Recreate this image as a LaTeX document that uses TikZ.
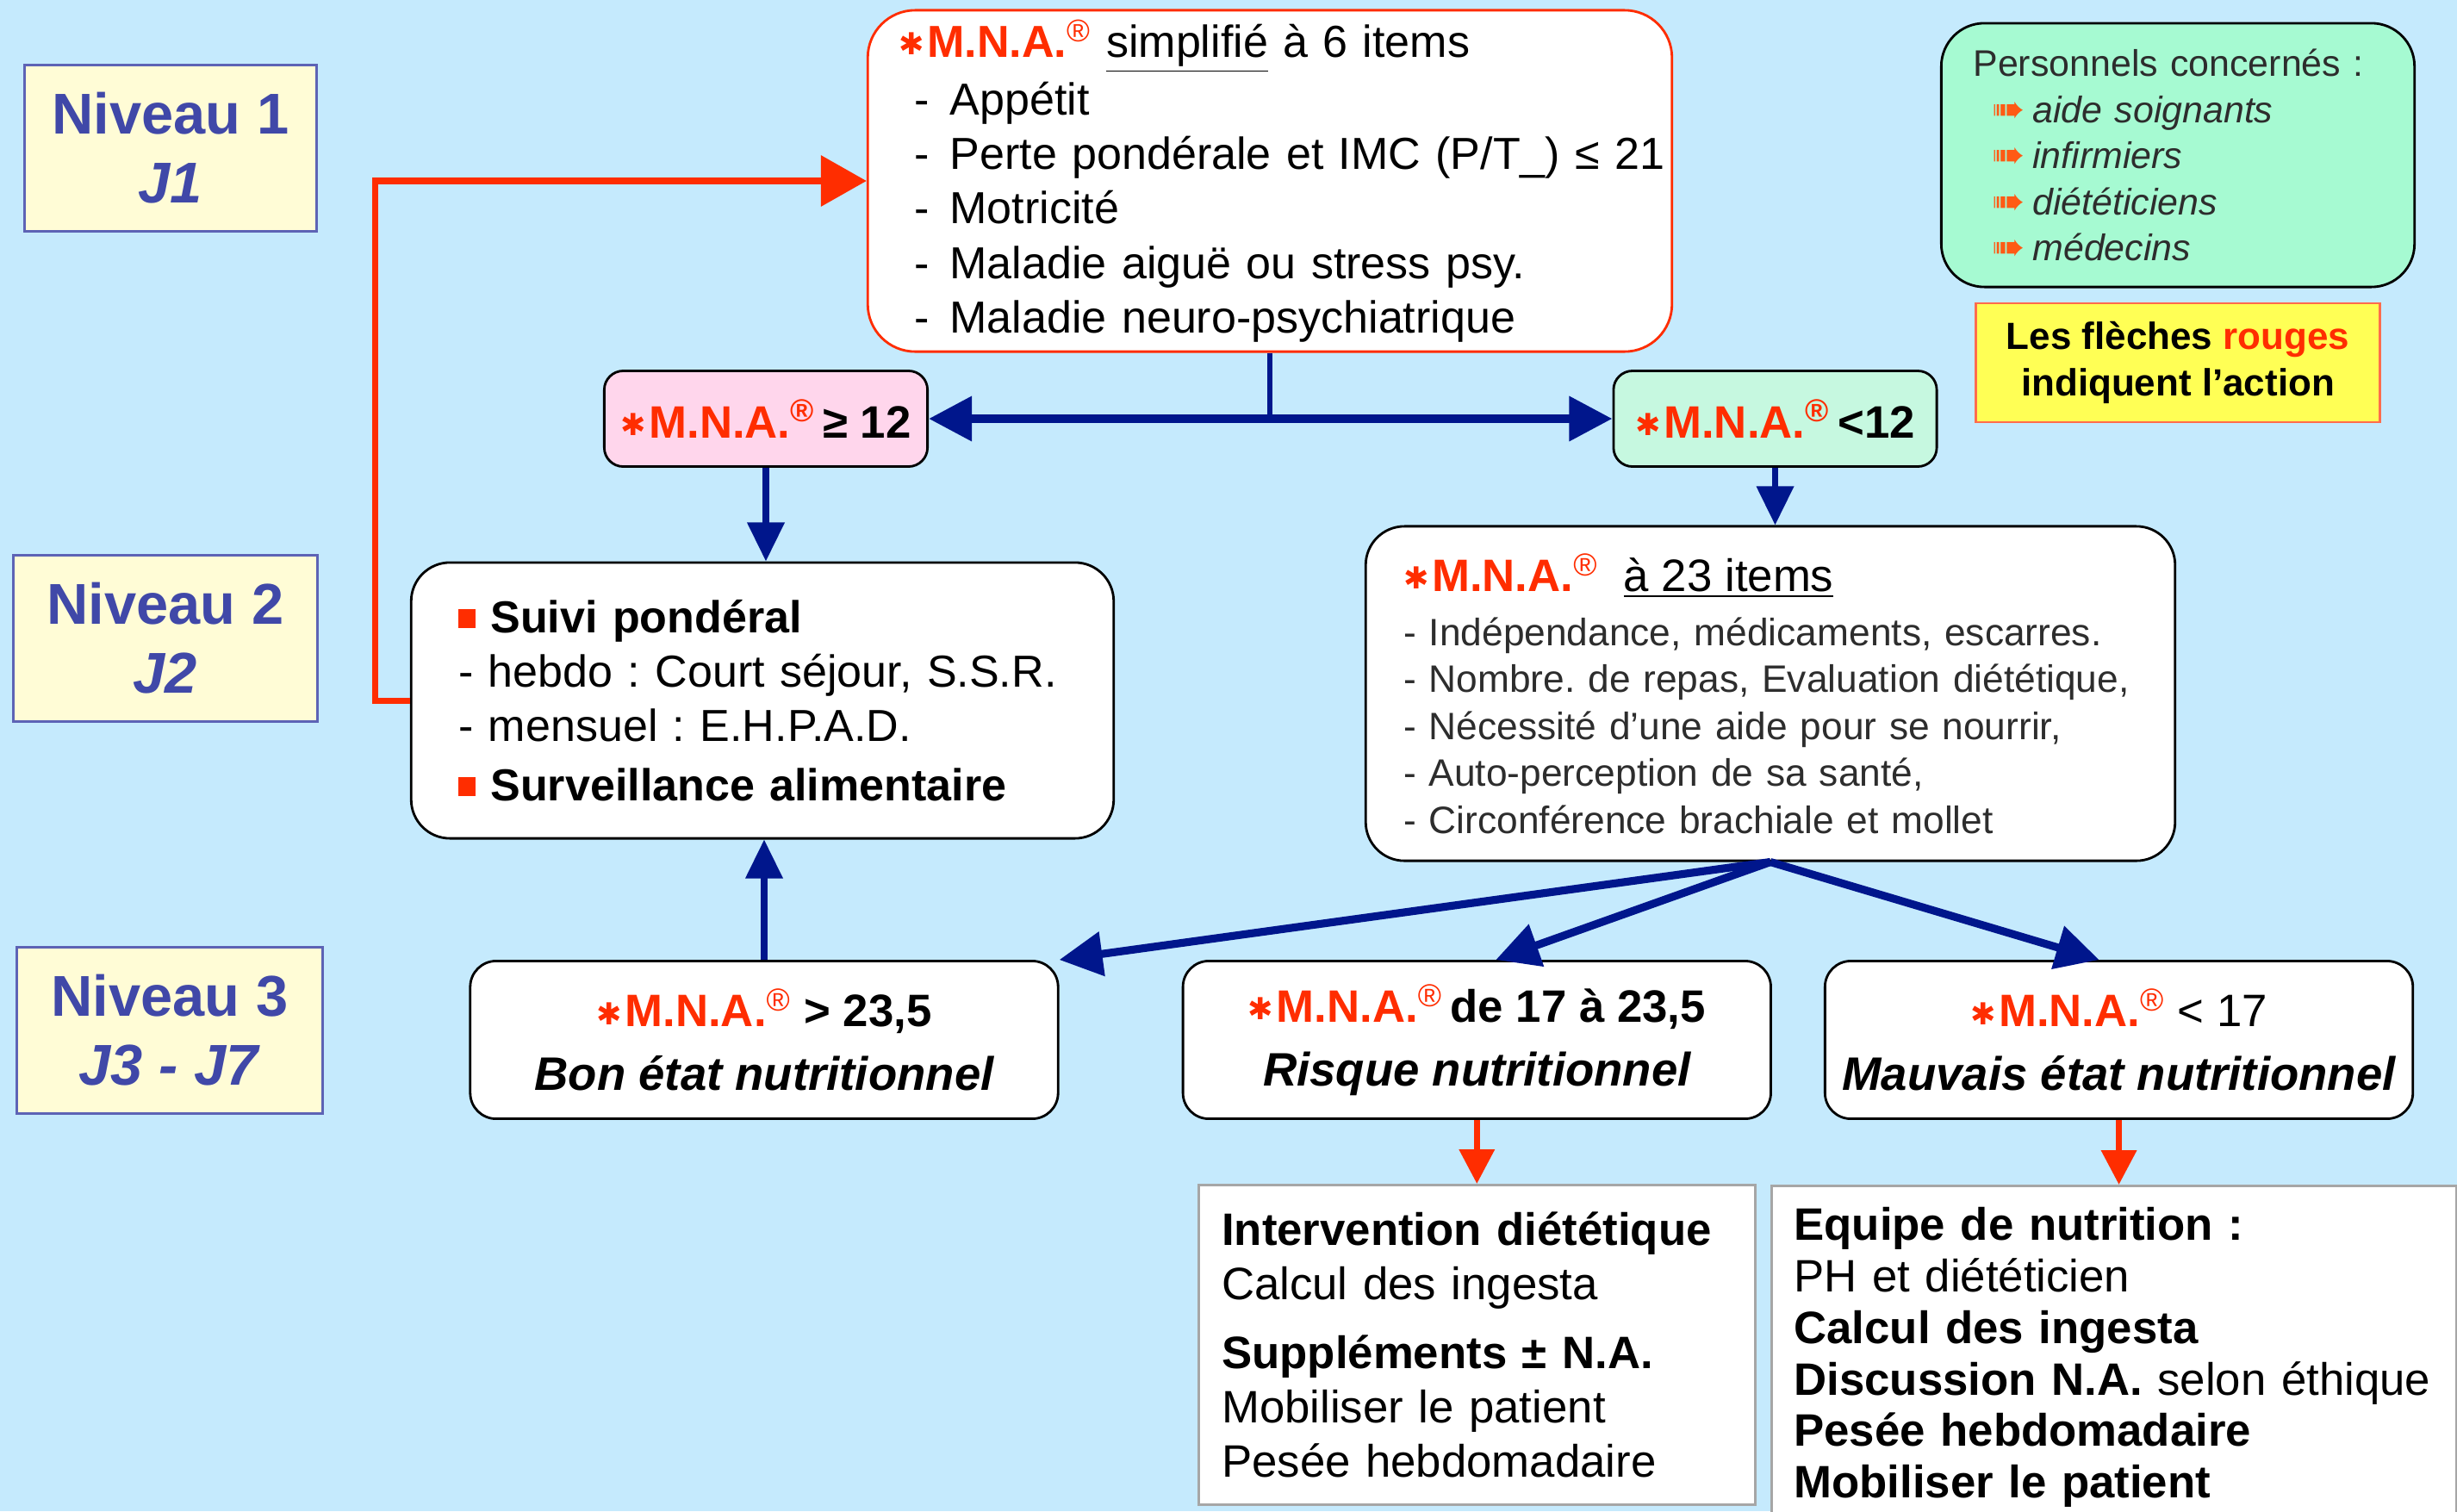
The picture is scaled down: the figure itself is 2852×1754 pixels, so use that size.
\documentclass[tikz,border=0pt]{standalone}
\usepackage{fontspec}
\setmainfont{Liberation Sans}
\newfontfamily\symfont{DejaVu Sans}
\usepackage{xcolor}
\usepackage{tikz}
\usetikzlibrary{arrows.meta,positioning,calc}
\definecolor{fond}{RGB}{197,234,253}
\definecolor{mnared}{RGB}{255,45,0}
\definecolor{navy}{RGB}{0,22,140}
\definecolor{nivtxt}{RGB}{64,72,168}
\definecolor{nivfond}{RGB}{255,252,214}
\definecolor{rose}{RGB}{255,214,236}
\definecolor{menthe}{RGB}{198,248,224}
\definecolor{vertpale}{RGB}{166,250,210}
\definecolor{jaune}{RGB}{255,255,85}
\definecolor{gristxt}{RGB}{45,45,45}
\definecolor{orangefl}{RGB}{255,90,20}
\frenchspacing
\newcommand{\mna}{{\color{mnared}\raisebox{0.1ex}{\symfont\fontsize{10}{10}\selectfont ✱}\kern1pt\textbf{M.N.A.}\textsuperscript{®}}}
\newcommand{\puce}{{\color{mnared}\raisebox{0.2ex}{\rule{0.38em}{0.42em}}}}
\newcommand{\fl}{\makebox[0.47cm][l]{\color{orangefl}\symfont\fontsize{13}{13}\selectfont ➠}}
\newcommand{\tiret}{\hspace*{0.18cm}-\hspace{0.24cm}}
\newcommand{\nutri}[1]{{\fontsize{15.5}{21}\selectfont\bfseries\itshape #1}}

\begin{document}
\begin{tikzpicture}[
  x=0.01cm, y=-0.01cm,
  box/.style={draw, line width=0.8pt, fill=white, rounded corners=0.45cm,
              align=left, inner ysep=0pt},
  niveau/.style={draw=nivtxt!85, line width=0.8pt, fill=nivfond, text=nivtxt,
                 align=center, minimum height=1.93cm, inner sep=0pt,
                 font=\fontsize{19}{22.7}\selectfont\bfseries},
  result/.style={box, align=center, rounded corners=0.3cm, minimum width=6.82cm,
                 minimum height=1.83cm, font=\fontsize{15}{21}\selectfont},
  plan/.style={draw=black!35, line width=0.8pt, fill=white, align=left,
               font=\fontsize{15}{18}\selectfont},
  bleu/.style={draw=navy, line width=2pt, -{Triangle[length=0.45cm,width=0.42cm]}},
  rouge/.style={draw=mnared, line width=2pt, -{Triangle[length=0.4cm,width=0.4cm]}},
  >=Stealth
]
  \useasboundingbox (0,0) rectangle (2852,1754);
  \clip (0,0) rectangle (2852,1754);
  \fill[fond] (0,0) rectangle (2852,1754);

  \node[niveau, minimum width=3.38cm] (N1) at (198,172) {Niveau 1\\\textit{J1}};
  \node[niveau, minimum width=3.53cm] (N2) at (192,741) {Niveau 2\\\textit{J2}};
  \node[niveau, minimum width=3.55cm] (N3) at (197,1196) {Niveau 3\\\textit{J3 - J7}};

  \node[box, draw=mnared, rounded corners=0.55cm, text width=8.61cm, inner xsep=0.36cm,
        minimum height=3.96cm, font=\fontsize{14.8}{18}\selectfont] (T) at (1474,210)
    {\mna\ \underline{simplifié} à 6 items\\[1pt]
     \tiret Appétit\\
     \mbox{\tiret Perte pondérale et IMC (P/T\_) ≤ 21}\\
     \tiret Motricité\\
     \tiret Maladie aiguë ou stress psy.\\
     \tiret Maladie neuro-psychiatrique};

  \node[box, fill=rose, rounded corners=0.22cm, minimum width=3.75cm, minimum height=1.11cm,
        align=center, font=\fontsize{15}{18}\selectfont\bfseries] (P) at (889,486) {\mna\,≥ 12};
  \node[box, fill=menthe, rounded corners=0.22cm, minimum width=3.75cm, minimum height=1.11cm,
        align=center, font=\fontsize{15}{18}\selectfont\bfseries, right=7.93cm of P] (G) {\mna\,<12};

  \node[box, text width=7.05cm, inner xsep=0.55cm, minimum height=3.2cm,
        font=\fontsize{14.8}{18}\selectfont] (S) at (885,813)
    {\puce\ \textbf{Suivi pondéral}\\
     \mbox{- hebdo : Court séjour, S.S.R.}\\
     - mensuel : E.H.P.A.D.\\[1.5pt]
     \puce\ \textbf{Surveillance alimentaire}};

  \node[box, text width=8.51cm, inner xsep=0.44cm, minimum height=3.88cm, text=gristxt,
        font=\fontsize{12.6}{15.5}\selectfont] (M) at (2055,805)
    {{\color{black}\fontsize{15}{18}\selectfont\mna\ \ \underline{à 23 items}}\\[2.4pt]
     \mbox{- Indépendance, médicaments, escarres.}\\
     \mbox{- Nombre. de repas, Evaluation diététique,}\\
     \mbox{- Nécessité d'une aide pour se nourrir,}\\
     - Auto-perception de sa santé,\\
     \mbox{- Circonférence brachiale et mollet}};

  \node[result] (B) at (887,1207) {\mna\ \textbf{> 23,5}\\\nutri{Bon état nutritionnel}};
  \node[result, right=1.42cm of B] (R) {\mna\,\textbf{de 17 à 23,5}\\\nutri{Risque nutritionnel}};
  \node[result, right=0.6cm of R] (V) {\mna\ < 17\\\nutri{Mauvais état nutritionnel}};

  \node[plan, minimum width=6.46cm, minimum height=3.71cm, text width=5.92cm,
        inner xsep=0.27cm, below=0.74cm of R] (I)
    {\textbf{Intervention diététique}\\
     Calcul des ingesta\\[4.5pt]
     \textbf{Suppléments ± N.A.}\\
     Mobiliser le patient\\
     Pesée hebdomadaire};
  \node[plan, anchor=north west, text width=7.42cm, inner xsep=0.26cm, inner ysep=0.25cm,
        font=\fontsize{15}{17}\selectfont] (E) at (2055,1375)
    {\textbf{Equipe de nutrition :}\\
     PH et diététicien\\
     \textbf{Calcul des ingesta}\\
     \mbox{\textbf{Discussion N.A.} selon éthique}\\
     \textbf{Pesée hebdomadaire}\\
     \textbf{Mobiliser le patient}};

  \node[box, fill=vertpale, rounded corners=0.5cm, text width=4.75cm, inner xsep=0.37cm,
        minimum height=3.06cm, text=gristxt, font=\fontsize{12.2}{15.2}\selectfont] (Pc) at (2528,180)
    {\mbox{Personnels concernés :}\\
     \hspace*{0.22cm}\fl\textit{aide soignants}\\
     \hspace*{0.22cm}\fl\textit{infirmiers}\\
     \hspace*{0.22cm}\fl\textit{diététiciens}\\
     \hspace*{0.22cm}\fl\textit{médecins}};
  \node[draw=mnared!70, line width=0.8pt, fill=jaune, minimum width=4.69cm, minimum height=1.38cm,
        align=center, font=\fontsize{12.5}{15.5}\selectfont\bfseries, below=0.16cm of Pc] (Y)
    {Les flèches {\color{mnared}rouges}\\indiquent l'action};

  \draw[rouge, -{Triangle[length=0.53cm,width=0.58cm]}] (S.west) -- ++(-40,0) |- (T.west);
  \draw[navy, line width=1.5pt] (T.south) -- (T.south |- P.east);
  \draw[bleu, line width=2.8pt, {Triangle[length=0.5cm,width=0.5cm]}-{Triangle[length=0.5cm,width=0.5cm]}] (P) -- (G);
  \draw[bleu] (P.south) -- (P.south |- S.north);
  \draw[bleu] (G.south) -- (G.south |- M.north);
  \draw[bleu, line width=2.6pt, -{Triangle[length=0.5cm,width=0.5cm]}] (M.south) -- (B.north east);
  \draw[bleu, line width=2.6pt, -{Triangle[length=0.5cm,width=0.5cm]}] (M.south) -- ([xshift=0.22cm]R.north);
  \draw[bleu, line width=2.6pt, -{Triangle[length=0.5cm,width=0.5cm]}] (M.south) -- ([xshift=-0.23cm]V.north);
  \draw[bleu] (B.north) -- (B.north |- S.south);
  \draw[rouge] (R) -- (I);
  \draw[rouge] (V.south) -- (V.south |- E.north);
\end{tikzpicture}
\end{document}
